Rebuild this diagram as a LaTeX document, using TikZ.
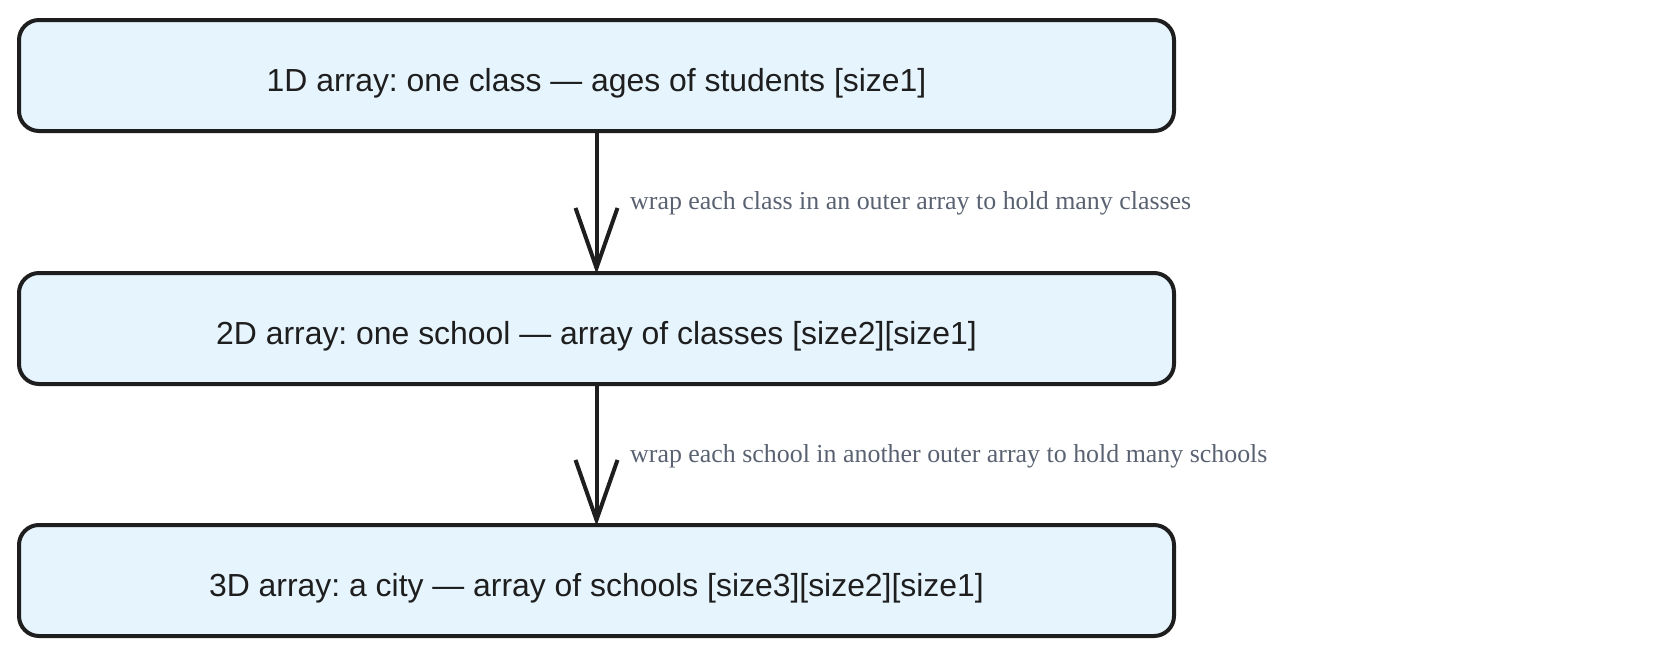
\documentclass[tikz,border=0pt]{standalone}
\usepackage{fontspec}
\setmainfont{Liberation Sans}
\newfontfamily\lblfont{Liberation Serif}
\usetikzlibrary{arrows.meta}
\definecolor{boxfill}{HTML}{E6F4FE}
\definecolor{ink}{HTML}{1E1E1E}
\definecolor{lbl}{HTML}{5A6272}
\frenchspacing
\begin{document}
\begin{tikzpicture}[x=1pt,y=-1pt,
  stagebox/.style={draw=ink, line width=4pt, fill=boxfill, rounded corners=20pt,
    minimum width=1155pt, minimum height=111pt, inner sep=0pt,
    text height=32pt, text depth=0pt,
    font=\fontsize{31.9}{38}\selectfont, text=ink},
  lbltext/.style={font=\lblfont\fontsize{25.9}{30}\selectfont, text=lbl, anchor=west, inner sep=0pt},
  flow/.style={draw=ink, line width=4pt, shorten >=-3pt, -{Straight Barb[length=60pt,width=42pt]}}]
\useasboundingbox (0,0) rectangle (1657,656);
\node[stagebox] (a) at (596.5,75.5) {1D array: one class — ages of students [size1]};
\node[stagebox] (b) at (596.5,328.5) {2D array: one school — array of classes [size2][size1]};
\node[stagebox] (c) at (596.5,580.5) {3D array: a city — array of schools [size3][size2][size1]};
\draw[flow] (a.south) -- (b.north);
\draw[flow] (b.south) -- (c.north);
\node[lbltext] (l1) at (630,203) {wrap each class in an outer array to hold many classes};
\node[lbltext] (l2) at (630,456) {wrap each school in another outer array to hold many schools};
\end{tikzpicture}
\end{document}
